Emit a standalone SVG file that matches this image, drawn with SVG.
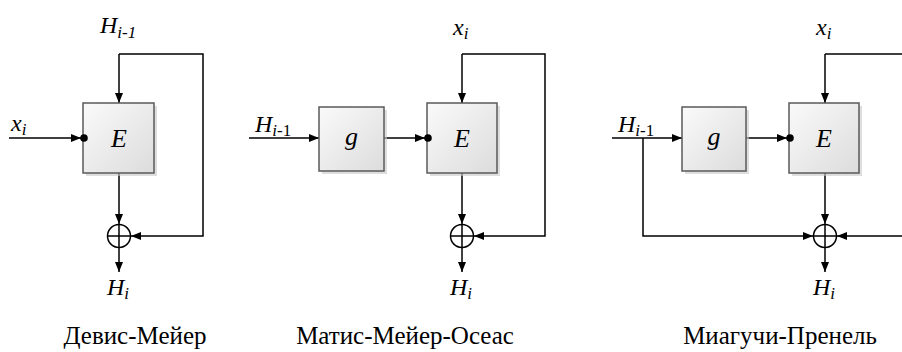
<svg xmlns="http://www.w3.org/2000/svg" width="902" height="352" viewBox="0 0 902 352">
<defs>
<linearGradient id="gr" x1="0" y1="0" x2="1" y2="1">
<stop offset="0" stop-color="#fafafa"/>
<stop offset="1" stop-color="#dcdcdc"/>
</linearGradient>
<marker id="ar" viewBox="0 0 10 8" refX="10" refY="4" markerWidth="10" markerHeight="8" markerUnits="userSpaceOnUse" orient="auto">
<path d="M0,0L10,4L0,8z" fill="#000"/>
</marker>
<rect id="bx" x="0" y="0" width="70" height="70" fill="url(#gr)" stroke="#5a5a5a" stroke-width="1.5"/>
</defs>

<g id="connectors" fill="none" stroke="#000" stroke-width="1.5">
<path d="M119,54V103" marker-end="url(#ar)"/>
<path d="M119,54H203V236H131" marker-end="url(#ar)"/>
<path d="M9,138H81" marker-end="url(#ar)"/>
<path d="M119,173V224" marker-end="url(#ar)"/>
<path d="M119,248V272" marker-end="url(#ar)"/>
<path d="M249,138H319" marker-end="url(#ar)"/>
<path d="M384,138H425" marker-end="url(#ar)"/>
<path d="M462,54V103" marker-end="url(#ar)"/>
<path d="M462,54H545V236H474" marker-end="url(#ar)"/>
<path d="M462,173V224" marker-end="url(#ar)"/>
<path d="M462,248V272" marker-end="url(#ar)"/>
<path d="M612,138H682" marker-end="url(#ar)"/>
<path d="M643,138V236H813" marker-end="url(#ar)"/>
<path d="M746,138H787" marker-end="url(#ar)"/>
<path d="M825,54V103" marker-end="url(#ar)"/>
<path d="M825,54H902"/>
<path d="M902,236H837" marker-end="url(#ar)"/>
<path d="M825,173V224" marker-end="url(#ar)"/>
<path d="M825,248V272" marker-end="url(#ar)"/>
</g>

<g id="dm-E">
<rect x="86" y="106" width="71" height="70" fill="#c8c8c8" opacity="0.6"/>
<rect x="83" y="103" width="71" height="70" fill="url(#gr)" stroke="#5a5a5a" stroke-width="1.5"/>
<circle cx="84" cy="138" r="3.8" fill="#000"/>
<text font-family="Liberation Serif" font-style="italic" font-size="26" text-anchor="middle" x="119" y="147">E</text>
</g>
<g id="dm-xor" fill="none" stroke="#000" stroke-width="1.5">
<circle cx="119" cy="236" r="11.5"/>
<path d="M107.5,236H130.5M119,224.5V247.5"/>
</g>
<g id="dm-labels">
<text font-family="Liberation Serif" font-style="italic" font-size="24" x="100" y="33">H<tspan font-size="17" dy="5">i-1</tspan></text>
<text font-family="Liberation Serif" font-style="italic" font-size="24" x="11" y="131">x<tspan font-size="17" dy="4">i</tspan></text>
<text font-family="Liberation Serif" font-style="italic" font-size="24" x="107" y="295">H<tspan font-size="17" dy="4">i</tspan></text>
<text font-family="Liberation Serif" font-size="25" text-anchor="middle" x="135" y="344">Девис-Мейер</text>
</g>

<g id="mmo-g">
<rect x="322" y="110" width="65" height="64" fill="#c8c8c8" opacity="0.6"/>
<rect x="319" y="107" width="65" height="64" fill="url(#gr)" stroke="#5a5a5a" stroke-width="1.5"/>
<text font-family="Liberation Serif" font-style="italic" font-size="26" text-anchor="middle" x="351.5" y="145">g</text>
</g>
<g id="mmo-E">
<rect x="430" y="106" width="70" height="70" fill="#c8c8c8" opacity="0.6"/>
<use href="#bx" x="427" y="103"/>
<circle cx="428" cy="138" r="3.8" fill="#000"/>
<text font-family="Liberation Serif" font-style="italic" font-size="26" text-anchor="middle" x="462" y="147">E</text>
</g>
<g id="mmo-xor" fill="none" stroke="#000" stroke-width="1.5">
<circle cx="462" cy="236" r="11.5"/>
<path d="M450.5,236H473.5M462,224.5V247.5"/>
</g>
<g id="mmo-labels">
<text font-family="Liberation Serif" font-style="italic" font-size="24" x="255" y="132">H<tspan font-size="17" dy="4">i-<tspan font-style="normal">1</tspan></tspan></text>
<text font-family="Liberation Serif" font-style="italic" font-size="24" x="453" y="35">x<tspan font-size="17" dy="4">i</tspan></text>
<text font-family="Liberation Serif" font-style="italic" font-size="24" x="450" y="295">H<tspan font-size="17" dy="4">i</tspan></text>
<text font-family="Liberation Serif" font-size="25" text-anchor="middle" x="405" y="344">Матис-Мейер-Осеас</text>
</g>

<g id="mp-g">
<rect x="685" y="110" width="64" height="64" fill="#c8c8c8" opacity="0.6"/>
<rect x="682" y="107" width="64" height="64" fill="url(#gr)" stroke="#5a5a5a" stroke-width="1.5"/>
<text font-family="Liberation Serif" font-style="italic" font-size="26" text-anchor="middle" x="714" y="145">g</text>
</g>
<g id="mp-E">
<rect x="792" y="106" width="70" height="70" fill="#c8c8c8" opacity="0.6"/>
<use href="#bx" x="789" y="103"/>
<circle cx="790" cy="138" r="3.8" fill="#000"/>
<text font-family="Liberation Serif" font-style="italic" font-size="26" text-anchor="middle" x="824" y="147">E</text>
</g>
<g id="mp-xor" fill="none" stroke="#000" stroke-width="1.5">
<circle cx="825" cy="236" r="11.5"/>
<path d="M813.5,236H836.5M825,224.5V247.5"/>
</g>
<g id="mp-labels">
<text font-family="Liberation Serif" font-style="italic" font-size="24" x="618" y="132">H<tspan font-size="17" dy="4">i-<tspan font-style="normal">1</tspan></tspan></text>
<text font-family="Liberation Serif" font-style="italic" font-size="24" x="816" y="35">x<tspan font-size="17" dy="4">i</tspan></text>
<text font-family="Liberation Serif" font-style="italic" font-size="24" x="813" y="295">H<tspan font-size="17" dy="4">i</tspan></text>
<text font-family="Liberation Serif" font-size="25" text-anchor="middle" x="780" y="344">Миагучи-Пренель</text>
</g>
</svg>
